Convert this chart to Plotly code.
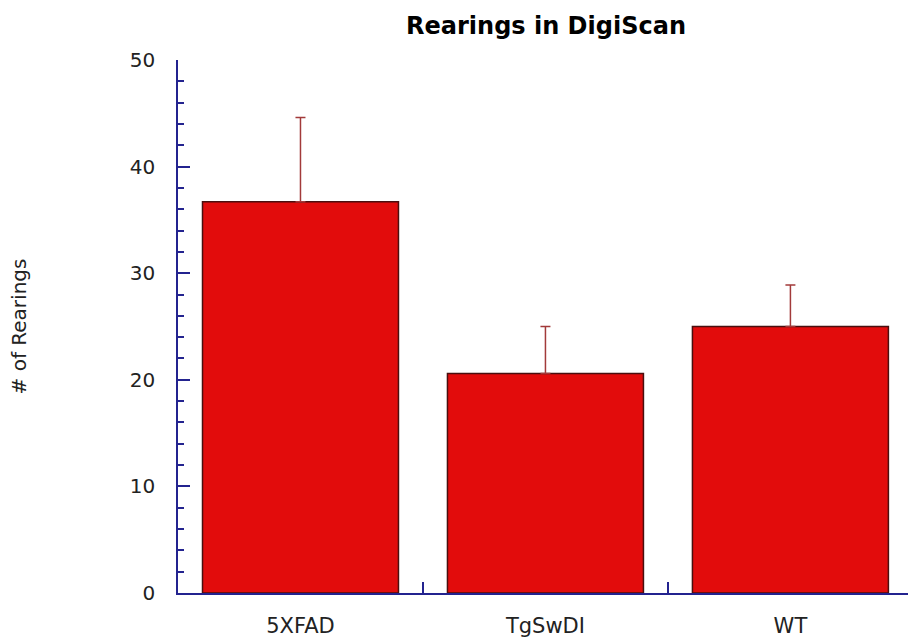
import plotly.graph_objects as go

categories = ["5XFAD", "TgSwDI", "WT"]
means = [36.7, 20.6, 25.0]
errors_up = [7.9, 4.4, 3.9]
y_ticks = [0, 10, 20, 30, 40, 50]

fig = go.Figure()
fig.add_trace(go.Bar(
    x=categories, y=means,
    marker=dict(color="#e20c0c", line=dict(color="#4a0f0f", width=1.5)),
    width=0.8,
    error_y=dict(type="data", array=errors_up, arrayminus=[0, 0, 0], symmetric=False,
                 color="#a23a3a", thickness=1.5, width=5),
))

axis_col = "#23238f"
fig.update_layout(
    width=908, height=639,
    margin=dict(l=178, r=0, t=60, b=46),
    paper_bgcolor="white", plot_bgcolor="white",
    showlegend=False,
    title=dict(text="<b>Rearings in DigiScan</b>", x=546/908, xanchor="center",
               y=1 - 26/639, yanchor="middle",
               font=dict(family="DejaVu Sans", size=24, color="black")),
    xaxis=dict(range=[-0.5, 2.48], showline=True, linecolor=axis_col, linewidth=1.5,
               ticks="inside", tickson="boundaries", ticklen=11, tickcolor=axis_col,
               tickwidth=1.5, showgrid=False, zeroline=False, ticklabelstandoff=13,
               tickfont=dict(family="DejaVu Sans", size=21, color="#222222")),
    yaxis=dict(range=[0, 50], tickvals=y_ticks, showline=True, linecolor=axis_col,
               linewidth=1.5, ticks="inside", ticklen=12, tickcolor=axis_col, tickwidth=1.5,
               minor=dict(dtick=2, ticks="inside", ticklen=6, tickcolor=axis_col, tickwidth=1.5),
               showgrid=False, zeroline=False, ticklabelstandoff=17,
               tickfont=dict(family="DejaVu Sans", size=20, color="#222222"),
               title=dict(text="# of Rearings", standoff=98,
                          font=dict(family="DejaVu Sans", size=20, color="#222222"))),
)

fig.write_html("out.html")
